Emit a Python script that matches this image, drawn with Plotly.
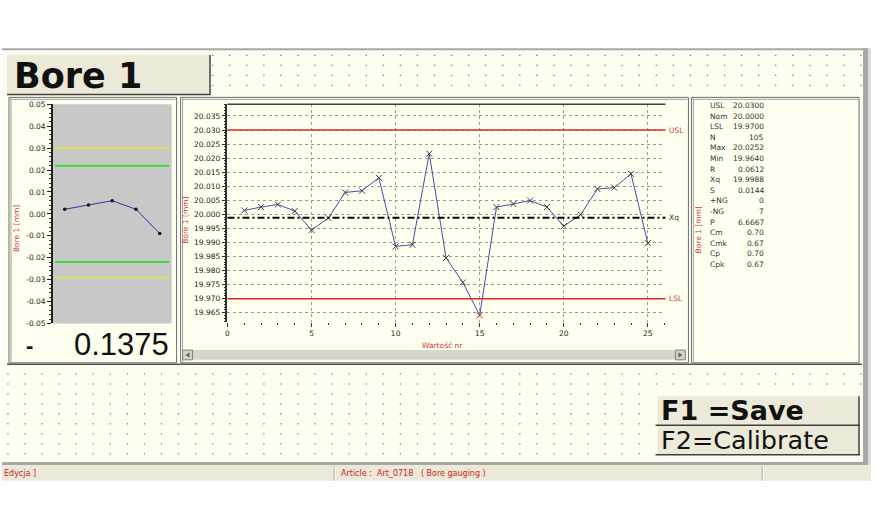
import numpy as np
import plotly.graph_objects as go

W, H = 876, 530

# ---------------- data ----------------
sample_no = list(range(1, 26))
bore_values = [20.0014, 20.0026, 20.0035, 20.0012, 19.9944, 19.9987, 20.0078, 20.0084,
               20.0130, 19.9886, 19.9892, 20.0216, 19.9845, 19.9758, 19.9641, 20.0026,
               20.0037, 20.0049, 20.0026, 19.9958, 19.9999, 20.0090, 20.0095, 20.0144,
               19.9898]
USL, NOM, LSL, XQ = 20.030, 20.000, 19.970, 19.9988
main_y_ticks = [19.965, 19.970, 19.975, 19.980, 19.985, 19.990, 19.995, 20.000,
                20.005, 20.010, 20.015, 20.020, 20.025, 20.030, 20.035]
main_x_ticks = [0, 5, 10, 15, 20, 25]

trend_no = [1, 2, 3, 4, 5]
trend_dev = [0.0021, 0.0041, 0.0060, 0.0021, -0.0090]
warn_limits = [0.022, -0.022]
ctrl_limits = [0.030, -0.029]
left_y_ticks = [0.05, 0.04, 0.03, 0.02, 0.01, 0.00, -0.01, -0.02, -0.03, -0.04, -0.05]
left_y_labels = ["0.05", "0.04", "0.03", "0.02", "0.01", "0.00",
                 "-0.01", "-0.02", "-0.03", "-0.04", "-0.05"]

stat_labels = ["USL", "Nom", "LSL", "N", "Max", "Min", "R", "Xq", "S",
               "+NG", "-NG", "P", "Cm", "Cmk", "Cp", "Cpk"]
stat_values = ["20.0300", "20.0000", "19.9700", "105", "20.0252", "19.9640", "0.0612",
               "19.9988", "0.0144", "0", "7", "6.6667", "0.70", "0.67", "0.70", "0.67"]
display_sign = "-"
display_value = "0.1375"


def X(px):
    return px / W


def Y(py):
    return 1 - py / H


RED_TXT = "#cc3a3a"
TICK_FONT = dict(family="DejaVu Sans", size=7.5, color="#222222")

shapes = []
annotations = []


def rect(x0, y0, x1, y1, fill, line=None, lw=1):
    shapes.append(dict(type="rect", xref="paper", yref="paper", layer="below",
                       x0=X(x0), x1=X(x1), y0=Y(y1), y1=Y(y0), fillcolor=fill,
                       line=dict(color=line or fill, width=lw if line else 0)))


def hline(x0, x1, y, color, lw=1):
    shapes.append(dict(type="line", xref="paper", yref="paper", layer="below",
                       x0=X(x0), x1=X(x1), y0=Y(y), y1=Y(y), line=dict(color=color, width=lw)))


def vline(x, y0, y1, color, lw=1):
    shapes.append(dict(type="line", xref="paper", yref="paper", layer="below",
                       x0=X(x), x1=X(x), y0=Y(y0), y1=Y(y1), line=dict(color=color, width=lw)))


def text(x, y, s, size=8, color="#222", xanchor="left", yanchor="middle", family="DejaVu Sans",
         weight="normal", angle=0):
    annotations.append(dict(x=X(x), y=Y(y), xref="paper", yref="paper", text=s, showarrow=False,
                            xanchor=xanchor, yanchor=yanchor, textangle=angle,
                            font=dict(size=size, color=color, family=family, weight=weight)))


# ---------------- window chrome ----------------
rect(0, 47, 864, 467, "#FDFDF2")
rect(0, 45, 868, 47, "#A8A8A8")
rect(863, 45, 868, 469, "#A8A8A8")
rect(868, 45, 871, 485, "#DCDCDC")
rect(0, 466, 868, 469, "#A8A8A8")
rect(0, 469, 871, 485, "#ECE9D8")
vline(333, 470, 485, "#A0A0A0")
vline(334, 470, 485, "#FFFFFF")
vline(762, 470, 485, "#A0A0A0")
vline(763, 470, 485, "#FFFFFF")

# title box
rect(5, 52, 208, 92, "#ECE9D8")
hline(5, 209, 92, "#404040", 1.5)
vline(208.5, 52, 92, "#404040", 1.5)

# panels
for (a, b) in [(7, 175), (179, 688), (691, 859)]:
    rect(a, 95, b, 365, "#FFFFF0", "#6E6E6E", 1)
    vline(a + 2, 96, 364, "#A0A0A0", 1)
    hline(a + 1, b - 1, 97, "#A0A0A0", 1)
hline(5, 862, 366.5, "#505050", 1.5)

# scroll bar in main panel
rect(181, 352, 685, 362, "#D8D5CC")
for (a, b) in [(181, 191), (675, 685)]:
    rect(a, 352, b, 362, "#D4D0C8", "#808080", 1)
shapes.append(dict(type="path", xref="paper", yref="paper", layer="below",
                   path=f"M {X(184)} {Y(357)} L {X(188)} {Y(354.5)} L {X(188)} {Y(359.5)} Z",
                   fillcolor="#606060", line=dict(width=0)))
shapes.append(dict(type="path", xref="paper", yref="paper", layer="below",
                   path=f"M {X(682)} {Y(357)} L {X(678)} {Y(354.5)} L {X(678)} {Y(359.5)} Z",
                   fillcolor="#606060", line=dict(width=0)))

# function key boxes
rect(657, 399, 859, 428, "#ECE9D8")
rect(657, 429, 859, 458, "#ECE9D8")
hline(655, 860, 428.5, "#404040", 1.5)
hline(655, 860, 458.5, "#404040", 1.5)
vline(859, 399, 458, "#404040", 1.5)

# ---------------- background dot grid (decoration) ----------------
gx, gy = np.meshgrid(np.arange(6, 862, 17.1), np.arange(52.3, 464, 10.13))
gx, gy = gx.ravel(), gy.ravel()
keep = ~(((gx > 3) & (gx < 210) & (gy > 50) & (gy < 94)) |
         ((gy > 92) & (gy < 369)) |
         ((gx > 653) & (gy > 396) & (gy < 461)))
fig = go.Figure()
fig.add_trace(go.Scatter(x=gx[keep], y=gy[keep], mode="markers", xaxis="x3", yaxis="y3",
                         marker=dict(size=1.6, color="#8A8A8A"), hoverinfo="skip",
                         showlegend=False))

# ---------------- main chart ----------------
marker_cols = ["#d03030" if (v < LSL or v > USL) else "#404040" for v in bore_values]
fig.add_trace(go.Scatter(x=sample_no, y=bore_values, mode="lines+markers",
                         line=dict(color="#4a4aaa", width=1),
                         marker=dict(symbol="x-thin", size=6,
                                     line=dict(width=1, color=marker_cols)),
                         showlegend=False))

for val, col in [(USL, "#e02828"), (LSL, "#e02828")]:
    shapes.append(dict(type="line", xref="x domain", yref="y", x0=0, x1=1, y0=val, y1=val,
                       line=dict(color=col, width=1.6), layer="above"))
shapes.append(dict(type="line", xref="x domain", yref="y", x0=0, x1=1, y0=XQ, y1=XQ,
                   line=dict(color="#000000", width=2, dash="7px,3px,2px,3px"), layer="above"))
shapes.append(dict(type="line", xref="x domain", yref="y domain", x0=0, x1=1, y0=1, y1=1,
                   line=dict(color="#404040", width=1.5), layer="above"))
for lab, val, col in [("USL", USL, RED_TXT), ("Xq", XQ, "#333333"), ("LSL", LSL, RED_TXT)]:
    annotations.append(dict(x=X(667), y=val, xref="paper", yref="y", text=lab, showarrow=False,
                            xanchor="left", yanchor="middle",
                            font=dict(family="DejaVu Sans", size=7.5, color=col)))

# ---------------- left trend chart ----------------
shapes.append(dict(type="rect", xref="x2 domain", yref="y2 domain", x0=0, x1=1, y0=0, y1=1,
                   fillcolor="#C8C8C8", line=dict(width=0), layer="below"))
for val in warn_limits:
    shapes.append(dict(type="line", xref="x2 domain", yref="y2", x0=0.02, x1=0.98, y0=val, y1=val,
                       line=dict(color="#3fd83f", width=2), layer="above"))
for val in ctrl_limits:
    shapes.append(dict(type="line", xref="x2 domain", yref="y2", x0=0.02, x1=0.98, y0=val, y1=val,
                       line=dict(color="#e6e040", width=1.6), layer="above"))
fig.add_trace(go.Scatter(x=trend_no, y=trend_dev, mode="lines+markers", xaxis="x2", yaxis="y2",
                         line=dict(color="#3333a0", width=1),
                         marker=dict(size=3.5, color="#111111"), showlegend=False))

# ---------------- texts ----------------
text(10, 73, "Bore 1", size=35, color="#111111", weight="bold")
text(14, 228, "Bore 1 [mm]", size=7.5, color=RED_TXT, xanchor="center", angle=-90)
text(184, 220, "Bore 1 [mm]", size=7.5, color=RED_TXT, xanchor="center", angle=-90)
text(698, 230, "Bore 1 [mm]", size=7.5, color=RED_TXT, xanchor="center", angle=-90)
text(442, 347, "Wartość nr", size=7.5, color=RED_TXT, xanchor="center")
text(28, 347, display_sign, size=22, color="#111111", xanchor="center",
     family="Liberation Sans", weight="bold")
text(169, 346, display_value, size=31, color="#111111", xanchor="right",
     family="Liberation Sans")
for i, (lab, val) in enumerate(zip(stat_labels, stat_values)):
    yy = 103.3 + i * 10.78
    text(708, yy, lab, size=7.5, color="#333333")
    text(766, yy, val, size=7.5, color="#333333", xanchor="right")
text(659, 413.5, "F1 =Save", size=27, color="#111111", weight="bold")
text(659, 444, "F2=Calibrate", size=25.5, color="#111111")
text(0, 477.5, "Edycja ]", size=8, color="#cc2222")
text(338, 477.5, "Article :  Art_0718   ( Bore gauging )", size=8, color="#cc2222")

# ---------------- layout ----------------
fig.update_layout(
    width=W, height=H, autosize=False,
    margin=dict(l=0, r=0, t=0, b=0, pad=0),
    paper_bgcolor="#FFFFFF", plot_bgcolor="rgba(0,0,0,0)",
    showlegend=False,
    shapes=shapes, annotations=annotations,
    xaxis=dict(domain=[X(226), X(665)], range=[0, 26.05], anchor="y",
               tickvals=main_x_ticks, ticks="outside", ticklen=4, tickcolor="#333333",
               tickfont=TICK_FONT, showline=False, zeroline=False,
               showgrid=True, gridcolor="#9a9a9a", griddash="dot", gridwidth=1,
               minor=dict(dtick=1, tick0=0, ticks="outside", ticklen=2, tickcolor="#333333",
                          showgrid=False),
               fixedrange=True),
    yaxis=dict(domain=[Y(324), Y(102)], range=[19.96154, 20.03916], anchor="x",
               tickvals=main_y_ticks, tickformat=".3f", ticks="outside", ticklen=4,
               tickcolor="#333333", tickfont=TICK_FONT,
               showline=True, linecolor="#303030", linewidth=1.5, zeroline=False,
               showgrid=True, gridcolor="#9a9a9a", griddash="dot", gridwidth=1,
               minor=dict(dtick=0.001, tick0=20, ticks="outside", ticklen=2, tickcolor="#333333",
                          showgrid=False),
               fixedrange=True),
    xaxis2=dict(domain=[X(51), X(170)], range=[0.5, 5.5], anchor="y2", visible=False,
                fixedrange=True),
    yaxis2=dict(domain=[Y(325), Y(102)], range=[-0.05, 0.05], anchor="x2",
                tickvals=left_y_ticks, ticktext=left_y_labels, ticks="outside", ticklen=4,
                tickcolor="#222222", tickfont=TICK_FONT, showline=True, linecolor="#202020",
                linewidth=1.5, zeroline=False, showgrid=False,
                minor=dict(dtick=0.002, tick0=0, ticks="outside", ticklen=2,
                           tickcolor="#333333", showgrid=False),
                fixedrange=True),
    xaxis3=dict(domain=[0, 1], range=[0, W], anchor="y3", visible=False, fixedrange=True),
    yaxis3=dict(domain=[0, 1], range=[H, 0], anchor="x3", visible=False, fixedrange=True),
)

fig.write_html("out.html", config={"displayModeBar": False},
               post_script="document.body.style.margin='0px';"
                           "document.body.style.overflow='hidden';")
